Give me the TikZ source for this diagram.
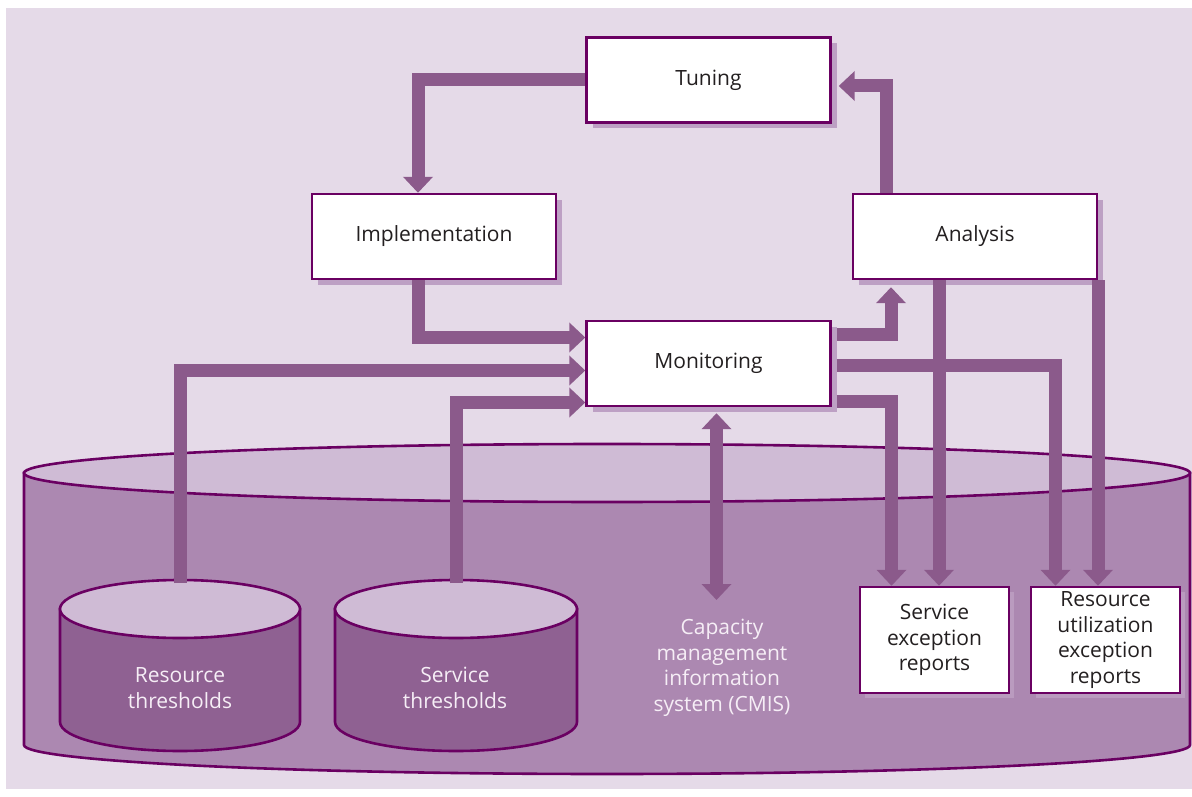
\documentclass[tikz,border=0pt]{standalone}
\usepackage{fontspec}
\setmainfont{Open Sans}
\usepackage{xcolor}
\definecolor{cmbg}{HTML}{E5DAE8}
\definecolor{cmbody}{HTML}{AC88B1}
\definecolor{cmtop}{HTML}{CFBBD5}
\definecolor{dbbody}{HTML}{8F6192}
\definecolor{cmline}{HTML}{6A0062}
\definecolor{cmarrow}{HTML}{8B5A8B}
\definecolor{boxshade}{HTML}{BDA0C4}
\definecolor{rptshade}{HTML}{BA9BBF}
\definecolor{cmtext}{HTML}{231F20}
\definecolor{paletext}{HTML}{F6EEF6}
\usetikzlibrary{arrows.meta, shadows}
\newcommand{\boxfont}{\fontsize{21}{25.5}\selectfont}
\newcommand{\dbdrum}[7]{% cx, cy (top centre), rx, ry, depth, body fill, top fill
  \filldraw[fill=#6, draw=cmline, line width=2.6pt]
    (#1-#3,#2) -- (#1-#3,#2-#5)
    arc[start angle=180, end angle=360, x radius=#3, y radius=#4]
    -- (#1+#3,#2) -- cycle;
  \filldraw[fill=#7, draw=cmline, line width=2.6pt]
    (#1,#2) ellipse[x radius=#3, y radius=#4];
}

\begin{document}
\begin{tikzpicture}[x=1pt, y=1pt,
    procbox/.style={draw=cmline, line width=2.4pt, fill=white, text=cmtext,
      font=\boxfont, minimum width=244, minimum height=85,
      general shadow={fill=boxshade, shadow xshift=6pt, shadow yshift=-6pt}},
    rptbox/.style={draw=cmline, line width=2.4pt, fill=white, text=cmtext,
      font=\boxfont, align=center, minimum width=149, minimum height=106,
      general shadow={fill=rptshade, shadow xshift=5pt, shadow yshift=-5pt}},
    dblabel/.style={text=paletext, font=\boxfont, align=center},
    flow/.style={draw=cmarrow, line width=13pt, -{Triangle[width=29pt, length=16pt]}},
    twoway/.style={flow, {Triangle[width=29pt, length=16pt]}-{Triangle[width=29pt, length=16pt]}}]
  \useasboundingbox (0,0) rectangle (1192,-797);
  \fill[cmbg] (6,-8) rectangle (1192,-789);

  % CMIS store and the two threshold stores
  \dbdrum{607}{-473}{583}{29}{272}{cmbody}{cmtop}
  \dbdrum{180}{-609}{120}{29}{113}{dbbody}{cmtop}
  \dbdrum{456}{-609}{121}{29}{113}{dbbody}{cmtop}
  \coordinate (rtTop) at (180,-583);
  \coordinate (stTop) at (456,-583);
  \coordinate (cmisTop) at (716.5,-600);

  \node[dblabel] (rt) at (180,-688) {Resource\\thresholds};
  \node[dblabel] (st) at (455,-688) {Service\\thresholds};
  \node[dblabel] (cmis) at (722,-668) {Capacity\\management\\information\\system (CMIS)};

  % activities
  \node[procbox] (tun) at (708.5,-80) {Tuning};
  \node[procbox] (impl) at (434,-236.5) {Implementation};
  \node[procbox] (ana) at (975,-236.5) {Analysis};
  \node[procbox] (mon) at (708.5,-363.5) {Monitoring};

  % reports
  \node[rptbox] (ser) at (934.5,-640) {Service\\exception\\reports};
  \node[rptbox] (rur) at (1105.5,-640) {Resource\\utilization\\exception\\reports};

  % iterative loop
  \draw[flow] (tun.west) -| ([xshift=-16]impl.north);
  \draw[flow] ([xshift=-16]impl.south) |- ([yshift=26]mon.west);
  \draw[flow] ([xshift=5,yshift=29]mon.east) -| ([xshift=-84,yshift=-7]ana.south);
  \draw[flow] ([xshift=-89]ana.north) |- ([xshift=7,yshift=-6]tun.east);

  % thresholds and CMIS into monitoring
  \draw[flow] (rtTop) |- ([yshift=-7]mon.west);
  \draw[flow] (stTop) |- ([yshift=-39]mon.west);
  \draw[twoway] ([xshift=8,yshift=-6]mon.south) -- (cmisTop);

  % exception reports
  \draw[flow] ([xshift=5,yshift=-2]mon.east) -| ([xshift=-50]rur.north);
  \draw[flow] ([xshift=5,yshift=-38]mon.east) -| ([xshift=-43]ser.north);
  \draw[flow] ([xshift=-36]ana.south) -- ([xshift=4.5]ser.north);
  \draw[flow] ([xshift=123]ana.south) -- ([xshift=-7.5]rur.north);
\end{tikzpicture}
\end{document}
